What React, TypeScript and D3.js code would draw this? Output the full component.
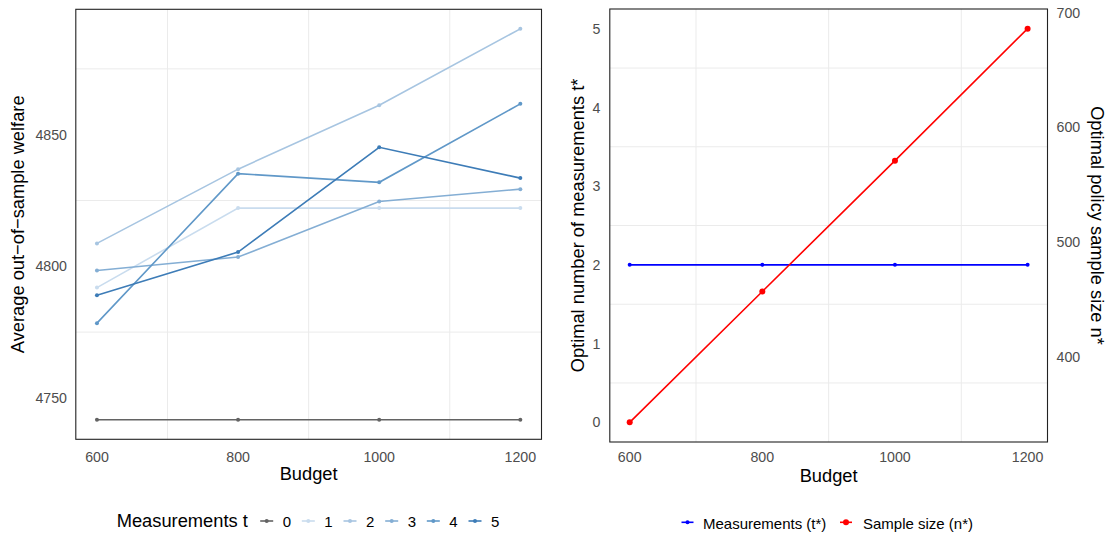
import React from "react";
import * as d3 from "d3";

const budgets = [600, 800, 1000, 1200];
const measurementLevels = ["0", "1", "2", "3", "4", "5"];
const welfare0 = [4741.7, 4741.7, 4741.7, 4741.7];
const welfare1 = [4791.9, 4822.1, 4822.1, 4822.1];
const welfare2 = [4808.7, 4836.9, 4861.2, 4890.2];
const welfare3 = [4798.4, 4803.5, 4824.6, 4829.3];
const welfare4 = [4778.4, 4835.2, 4831.9, 4861.7];
const welfare5 = [4789.0, 4805.4, 4845.2, 4833.5];
const welfareSeries = [welfare0, welfare1, welfare2, welfare3, welfare4, welfare5];
const seriesColors = ["#636363", "#C9DCEE", "#A7C5E1", "#84AED4", "#6098C8", "#3D7CB7"];
const welfareTicks = [4750, 4800, 4850];

const optimalT = [2, 2, 2, 2];
const optimalN = [343, 457, 571, 686];
const tTicks = [0, 1, 2, 3, 4, 5];
const nTicks = [400, 500, 600, 700];
const budgetTicks = [600, 800, 1000, 1200];

const FONT = "'Liberation Sans', Arial, Helvetica, sans-serif";
const TICK = "#4D4D4D";
const GRID = "#EBEBEB";
const TICK_FS = 14.2;
const TITLE_FS = 18.3;
const LEG_FS = 15;

function expand(lo: number, hi: number): [number, number] {
  const e = (hi - lo) * 0.05;
  return [lo - e, hi + e];
}

export default function App() {
  // Left panel
  const L = { x0: 75.8, x1: 541.5, y0: 9.3, y1: 439.3 };
  const xDom = expand(d3.min(budgets)!, d3.max(budgets)!);
  const xL = d3.scaleLinear().domain(xDom).range([L.x0, L.x1]);
  const allW = welfareSeries.flat();
  const yL = d3.scaleLinear().domain(expand(d3.min(allW)!, d3.max(allW)!)).range([L.y1, L.y0]);
  const lineL = d3.line<number>().x((_, i) => xL(budgets[i])).y((d) => yL(d));

  const xMinor = [700, 900, 1100];
  const yLMinor = [4775, 4825, 4875];

  // Right panel
  const R = { x0: 609.8, x1: 1047.5, y0: 9, y1: 442 };
  const xR = d3.scaleLinear().domain(xDom).range([R.x0, R.x1]);
  const tDom = expand(0, 5);
  const yR = d3.scaleLinear().domain(tDom).range([R.y1, R.y0]);
  const nMin = d3.min(optimalN)!;
  const nMax = d3.max(optimalN)!;
  const nToT = (n: number) => ((n - nMin) / (nMax - nMin)) * 5;
  const yN = d3
    .scaleLinear()
    .domain([nMin + (tDom[0] / 5) * (nMax - nMin), nMin + (tDom[1] / 5) * (nMax - nMin)])
    .range([R.y1, R.y0]);
  const lineT = d3.line<number>().x((_, i) => xR(budgets[i])).y((d) => yR(d));
  const lineN = d3.line<number>().x((_, i) => xR(budgets[i])).y((d) => yR(nToT(d)));
  const yRMinor = [0.5, 1.5, 2.5, 3.5, 4.5];

  const legendXs = [266.7, 308.3, 350, 391.7, 433.3, 475];
  const legY = 521;

  return (
    <svg width={1107} height={535} style={{ position: "absolute", left: 0, top: 0, background: "#fff" }} fontFamily={FONT}>
      <rect width={1107} height={535} fill="#fff" />
      {/* Left panel grid */}
      {xMinor.map((v) => (
        <line key={"lx" + v} x1={xL(v)} x2={xL(v)} y1={L.y0} y2={L.y1} stroke={GRID} strokeWidth={1} />
      ))}
      {yLMinor.map((v) => (
        <line key={"ly" + v} x1={L.x0} x2={L.x1} y1={yL(v)} y2={yL(v)} stroke={GRID} strokeWidth={1} />
      ))}
      {welfareSeries.map((s, k) => (
        <g key={"s" + k}>
          <path d={lineL(s)!} fill="none" stroke={seriesColors[k]} strokeWidth={1.6} />
          {s.map((v, i) => (
            <circle key={i} cx={xL(budgets[i])} cy={yL(v)} r={2} fill={seriesColors[k]} />
          ))}
        </g>
      ))}
      <rect x={L.x0} y={L.y0} width={L.x1 - L.x0} height={L.y1 - L.y0} fill="none" stroke="#222" strokeWidth={1.1} />
      {welfareTicks.map((v) => (
        <text key={"lt" + v} x={67} y={yL(v)} dy="0.36em" textAnchor="end" fontSize={TICK_FS} fill={TICK}>
          {v}
        </text>
      ))}
      {budgetTicks.map((v) => (
        <text key={"lb" + v} x={xL(v)} y={461.5} textAnchor="middle" fontSize={TICK_FS} fill={TICK}>
          {v}
        </text>
      ))}
      <text x={(L.x0 + L.x1) / 2} y={480.3} textAnchor="middle" fontSize={TITLE_FS} fill="#000">
        Budget
      </text>
      <text transform={`translate(23.7,${(L.y0 + L.y1) / 2}) rotate(-90)`} textAnchor="middle" fontSize={TITLE_FS} fill="#000">
        Average out−of−sample welfare
      </text>

      {/* Left legend */}
      <text x={116.7} y={527.3} fontSize={TITLE_FS} fill="#000">
        Measurements t
      </text>
      {measurementLevels.map((lab, k) => (
        <g key={"lg" + k}>
          <line x1={legendXs[k] - 6.5} x2={legendXs[k] + 6.5} y1={legY} y2={legY} stroke={seriesColors[k]} strokeWidth={1.6} />
          <circle cx={legendXs[k]} cy={legY} r={2} fill={seriesColors[k]} />
          <text x={legendXs[k] + 16} y={527.3} fontSize={LEG_FS} fill="#000">
            {lab}
          </text>
        </g>
      ))}

      {/* Right panel grid */}
      {xMinor.map((v) => (
        <line key={"rx" + v} x1={xR(v)} x2={xR(v)} y1={R.y0} y2={R.y1} stroke={GRID} strokeWidth={1} />
      ))}
      {yRMinor.map((v) => (
        <line key={"ry" + v} x1={R.x0} x2={R.x1} y1={yR(v)} y2={yR(v)} stroke={GRID} strokeWidth={1} />
      ))}
      <path d={lineT(optimalT)!} fill="none" stroke="#0000FF" strokeWidth={1.6} />
      {optimalT.map((v, i) => (
        <circle key={"bt" + i} cx={xR(budgets[i])} cy={yR(v)} r={2} fill="#0000FF" />
      ))}
      <path d={lineN(optimalN)!} fill="none" stroke="#FF0000" strokeWidth={1.6} />
      {optimalN.map((v, i) => (
        <circle key={"rn" + i} cx={xR(budgets[i])} cy={yR(nToT(v))} r={3} fill="#FF0000" />
      ))}
      <rect x={R.x0} y={R.y0} width={R.x1 - R.x0} height={R.y1 - R.y0} fill="none" stroke="#222" strokeWidth={1.1} />
      {tTicks.map((v) => (
        <text key={"tt" + v} x={600.5} y={yR(v)} dy="0.36em" textAnchor="end" fontSize={TICK_FS} fill={TICK}>
          {v}
        </text>
      ))}
      {nTicks.map((v) => (
        <text key={"nt" + v} x={1056.5} y={yN(v)} dy="0.36em" textAnchor="start" fontSize={TICK_FS} fill={TICK}>
          {v}
        </text>
      ))}
      {budgetTicks.map((v) => (
        <text key={"rb" + v} x={xR(v)} y={462} textAnchor="middle" fontSize={TICK_FS} fill={TICK}>
          {v}
        </text>
      ))}
      <text x={(R.x0 + R.x1) / 2} y={482.2} textAnchor="middle" fontSize={TITLE_FS} fill="#000">
        Budget
      </text>
      <text transform={`translate(583.6,${(R.y0 + R.y1) / 2}) rotate(-90)`} textAnchor="middle" fontSize={TITLE_FS} fill="#000">
        Optimal number of measurements t*
      </text>
      <text transform={`translate(1091,${(R.y0 + R.y1) / 2}) rotate(90)`} textAnchor="middle" fontSize={TITLE_FS} fill="#000">
        Optimal policy sample size n*
      </text>

      {/* Right legend */}
      <line x1={681.5} x2={693.5} y1={522.3} y2={522.3} stroke="#0000FF" strokeWidth={1.6} />
      <circle cx={687.5} cy={522.3} r={2} fill="#0000FF" />
      <text x={703} y={528.5} fontSize={LEG_FS} fill="#000">
        Measurements (t*)
      </text>
      <line x1={840} x2={852} y1={522.3} y2={522.3} stroke="#FF0000" strokeWidth={1.6} />
      <circle cx={846} cy={522.3} r={3} fill="#FF0000" />
      <text x={863} y={528.5} fontSize={LEG_FS} fill="#000">
        Sample size (n*)
      </text>
    </svg>
  );
}
